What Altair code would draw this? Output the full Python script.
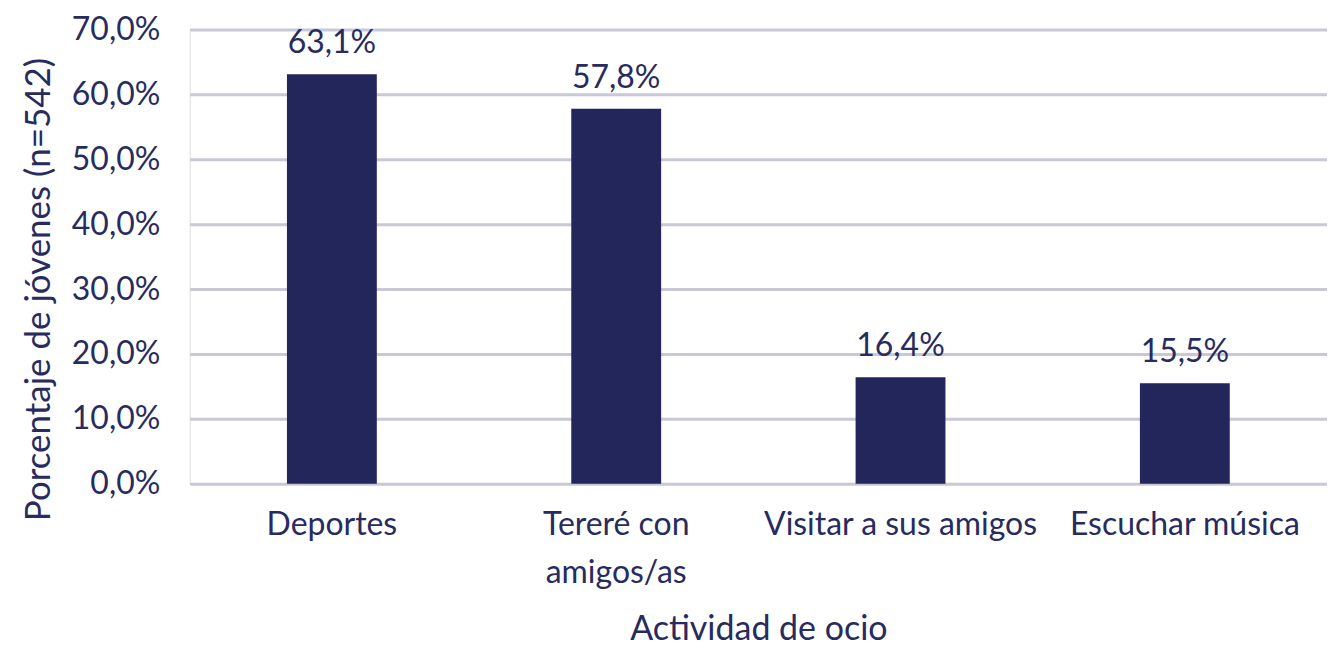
import altair as alt
import pandas as pd

categories = ["Deportes", "Tereré con amigos/as", "Visitar a sus amigos", "Escuchar música"]
values = [63.1, 57.8, 16.4, 15.5]

df = pd.DataFrame({"cat": categories, "v": values})

NAVY = "#22265A"
TEXT = "#272B5E"
GRID = "#C8C8D6"
FONT = "Lato"

x = alt.X("cat:N", sort=categories, title="Actividad de ocio",
          scale=alt.Scale(paddingInner=0, paddingOuter=0),
          axis=alt.Axis(labelAngle=0, labelFontSize=32, labelColor=TEXT, labelFont=FONT,
                        labelPadding=26, labelLineHeight=48, labelLimit=500, ticks=False,
                        domain=False, grid=False,
                        labelExpr="datum.label == 'Tereré con amigos/as' ? ['Tereré con', 'amigos/as'] : datum.label",
                        titleFontSize=34, titleColor=TEXT, titleFont=FONT, titleFontWeight="normal",
                        titleY=163, titleBaseline="bottom"))

y = alt.Y("v:Q", title="Porcentaje de jóvenes (n=542)",
          scale=alt.Scale(domain=[0, 70], nice=False),
          axis=alt.Axis(values=[0, 10, 20, 30, 40, 50, 60, 70],
                        labelExpr="replace(format(datum.value, '.1f'), '.', ',') + '%'",
                        labelFontSize=32, labelColor=TEXT, labelFont=FONT, labelPadding=30,
                        ticks=False, domain=False, grid=True, gridColor=GRID, gridWidth=3,
                        titleFontSize=35, titleColor=TEXT, titleFont=FONT, titleFontWeight="normal",
                        titleX=-151, titleY=260, titleAngle=-90, titleAlign="center",
                        titleBaseline="middle"))

bars = alt.Chart(df).mark_bar(size=90, color=NAVY).encode(x=x, y=y)

labels = alt.Chart(df).transform_calculate(
    lab="replace(format(datum.v, '.1f'), '.', ',') + '%'"
).mark_text(baseline="bottom", dy=-14, fontSize=32, color=TEXT, font=FONT).encode(
    x=alt.X("cat:N", sort=categories), y="v:Q", text="lab:N")

chart = (bars + labels).properties(
    width=1139, height=455,
    autosize=alt.AutoSizeParams(type="none"),
    padding={"left": 182, "top": 21, "right": 0, "bottom": 165},
).configure_view(stroke=None).configure(background="white")

chart.save("out.html", embed_options={"renderer": "svg", "actions": False})
